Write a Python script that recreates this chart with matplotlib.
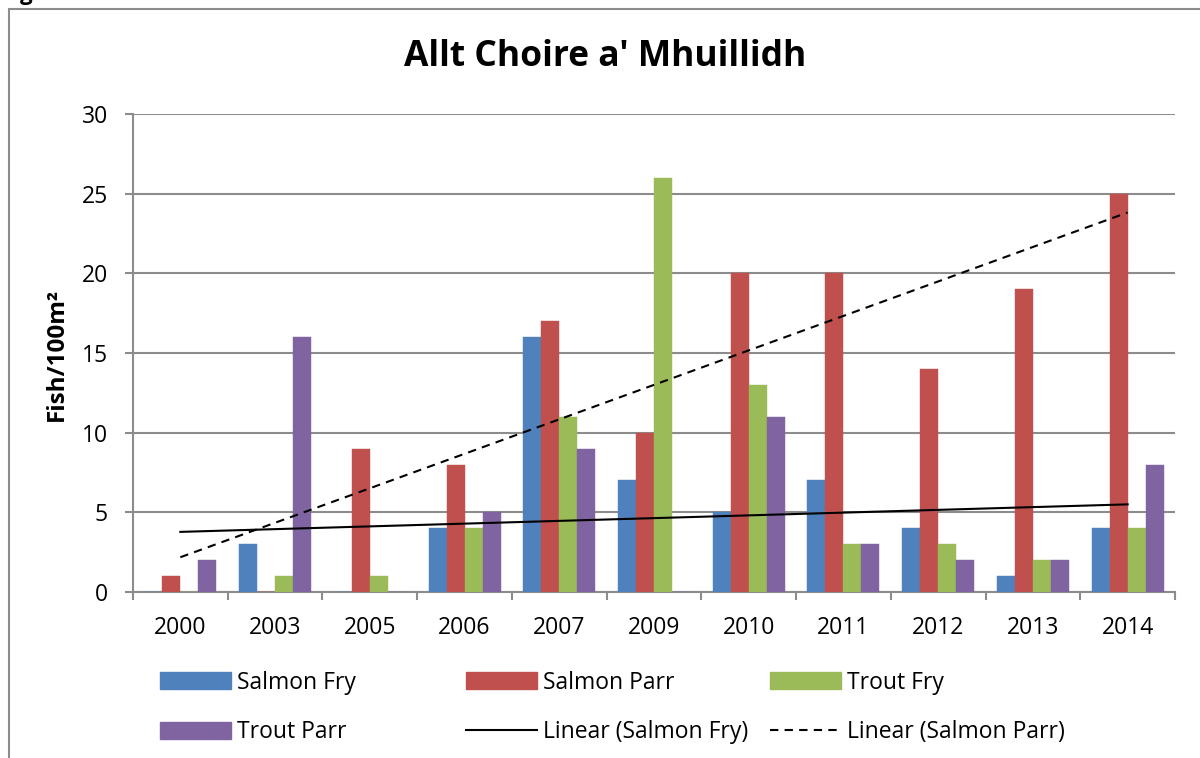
import numpy as np
import matplotlib
matplotlib.use("Agg")
import matplotlib.pyplot as plt
from matplotlib.patches import Rectangle, Patch
from matplotlib.lines import Line2D

plt.rcParams['font.family'] = ['Open Sans', 'DejaVu Sans']

years = ["2000", "2003", "2005", "2006", "2007", "2009", "2010", "2011", "2012", "2013", "2014"]
salmon_fry = [0, 3, 0, 4, 16, 7, 5, 7, 4, 1, 4]
salmon_parr = [1, 0, 9, 8, 17, 10, 20, 20, 14, 19, 25]
trout_fry = [0, 1, 1, 4, 11, 26, 13, 3, 3, 2, 4]
trout_parr = [2, 16, 0, 5, 9, 0, 11, 3, 2, 2, 8]
series_names = ["Salmon Fry", "Salmon Parr", "Trout Fry", "Trout Parr"]
colors = ["#4F81BD", "#C0504D", "#9BBB59", "#8064A2"]
yticks = [0, 5, 10, 15, 20, 25, 30]

W, H = 1200, 758
fig = plt.figure(figsize=(12, 7.58), dpi=100)

# chart border
fig.patches.append(Rectangle((9 / W, -0.05), 1.2, 1 - 9 / H + 0.05, transform=fig.transFigure,
                             fill=False, edgecolor="#8C8C8C", linewidth=1.5, clip_on=False))
# cropped caption letter above the chart (only its descender is visible, as in the reference)
fig.text(20 / W, 1.0, "g", fontsize=16, fontweight="bold", ha="left", va="baseline")

ax = fig.add_axes([133 / W, 1 - 592 / H, (1175 - 133) / W, (592 - 114) / H])

x = np.arange(len(years))
bw = 0.19
all_series = [salmon_fry, salmon_parr, trout_fry, trout_parr]
for i, (vals, c) in enumerate(zip(all_series, colors)):
    ax.bar(x + (i - 1.5) * bw, vals, width=bw, color=c, edgecolor=c, linewidth=0.3, zorder=3)

# linear trend lines (fitted on category index as Excel does)
idx = np.arange(1, len(years) + 1)
pf = np.polyfit(idx, salmon_fry, 1)
pp = np.polyfit(idx, salmon_parr, 1)
ax.plot(x, np.polyval(pf, idx), color="black", linewidth=1.5, zorder=4)
ax.plot(x, np.polyval(pp, idx), color="black", linewidth=1.5, linestyle=(0, (4, 3)), zorder=4)

ax.set_xlim(-0.5, len(years) - 0.5)
ax.set_ylim(0, 30)
ax.set_yticks(yticks)
ax.yaxis.grid(True, color="#8C8C8C", linewidth=1.5, zorder=0)
ax.set_axisbelow(True)
for s in ["top", "right"]:
    ax.spines[s].set_visible(False)
for s in ["left", "bottom"]:
    ax.spines[s].set_color("#8C8C8C")
    ax.spines[s].set_linewidth(1.5)

ax.set_xticks(np.arange(len(years) + 1) - 0.5)
ax.set_xticklabels([])
ax.set_xticks(x, minor=True)
ax.set_xticklabels(years, minor=True, fontsize=16.5)
ax.tick_params(axis="x", which="major", length=6, width=1.5, color="#8C8C8C", direction="out")
ax.tick_params(axis="x", which="minor", length=0, pad=17.5)
ax.tick_params(axis="y", length=6, width=1.5, color="#8C8C8C", direction="out", labelsize=16.5, pad=12)

ax.set_ylabel("Fish/100m²", fontsize=17.5, fontweight="bold")
ax.yaxis.set_label_coords(-(133 - 57) / (1175 - 133), (592 - 354) / (592 - 114))
ax.yaxis.label.set_va("center")

fig.text(605 / W, 1 - 57 / H, "Allt Choire a' Mhuillidh", fontsize=25.5, fontweight="bold",
         ha="center", va="center")

# legend, three fixed-width columns
h_sf = Patch(color=colors[0], label=series_names[0])
h_sp = Patch(color=colors[1], label=series_names[1])
h_tf = Patch(color=colors[2], label=series_names[2])
h_tp = Patch(color=colors[3], label=series_names[3])
h_lf = Line2D([], [], color="black", linewidth=1.5, label="Linear (Salmon Fry)")
h_lp = Line2D([], [], color="black", linewidth=1.5, linestyle=(0, (4, 3)), label="Linear (Salmon Parr)")
cols = [([h_sf, h_tp], 160), ([h_sp, h_lf], 466), ([h_tf, h_lp], 770)]
for handles, xpos in cols:
    leg = fig.legend(handles=handles, loc="center left", bbox_to_anchor=(xpos / W, 1 - 707.5 / H),
                     frameon=False, fontsize=16.5, handlelength=3.1, handleheight=0.75,
                     handletextpad=0.25, labelspacing=1.12, borderpad=0, borderaxespad=0)

fig.savefig("out.png", dpi=100)
